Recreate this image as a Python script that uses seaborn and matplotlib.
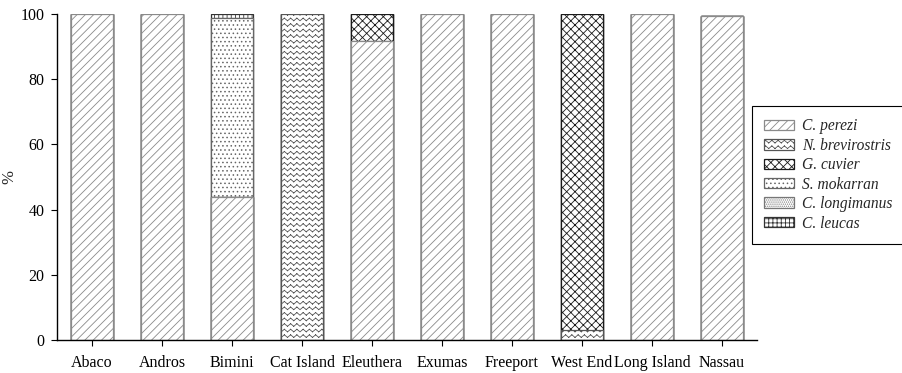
import numpy as np
import pandas as pd
import matplotlib
matplotlib.use("Agg")
import matplotlib.pyplot as plt
import seaborn as sns
from matplotlib import hatch as mhatch
from matplotlib.path import Path
from matplotlib.patches import Patch

# ---------------- data ----------------
sites = ["Abaco", "Andros", "Bimini", "Cat Island", "Eleuthera", "Exumas",
         "Freeport", "West End", "Long Island", "Nassau"]
species = ["C. perezi", "N. brevirostris", "G. cuvier", "S. mokarran",
           "C. longimanus", "C. leucas"]
c_perezi = [100, 100, 44.0, 0, 91.7, 100, 100, 0, 100, 99.4]
n_brevirostris = [0, 0, 0, 100, 0, 0, 0, 3.0, 0, 0]
g_cuvier = [0, 0, 0, 0, 8.3, 0, 0, 97.0, 0, 0]
s_mokarran = [0, 0, 54.8, 0, 0, 0, 0, 0, 0, 0]
c_longimanus = [0, 0, 0, 0, 0, 0, 0, 0, 0, 0]
c_leucas = [0, 0, 1.2, 0, 0, 0, 0, 0, 0, 0]
yticks = [0, 20, 40, 60, 80, 100]


# ------------- custom wavy hatch ('~') -------------
class WavyHatch(mhatch.HatchPatternBase):
    def __init__(self, hatch, density):
        self.num_rows = int(hatch.count("~") * density)
        self.periods = 16
        self.amp = 0.013
        self.num_vertices = self.num_rows * self.periods * 2 * 2

    def set_vertices_and_codes(self, vertices, codes):
        xs = np.linspace(0.0, 1.0, 2 * self.periods + 1)
        k = 0
        for r in range(self.num_rows):
            y0 = (r + 0.5) / self.num_rows
            ys = y0 + np.where(np.arange(len(xs)) % 2 == 0, -self.amp, self.amp)
            for i in range(len(xs) - 1):
                vertices[k] = (xs[i], ys[i])
                codes[k] = Path.MOVETO
                vertices[k + 1] = (xs[i + 1], ys[i + 1])
                codes[k + 1] = Path.LINETO
                k += 2


mhatch._hatch_types.append(WavyHatch)
try:
    mhatch.valid_hatch_patterns.add("~")
except Exception:
    pass

# ------------- style -------------
sns.set_style("ticks")
plt.rcParams["font.family"] = ["Liberation Serif", "DejaVu Serif"]
plt.rcParams["hatch.linewidth"] = 0.6

styles = {
    "C. perezi": dict(hatch="////", edgecolor="#8a8a8a"),
    "N. brevirostris": dict(hatch="~~~", edgecolor="#555555"),
    "G. cuvier": dict(hatch="xxxx", edgecolor="#1a1a1a"),
    "S. mokarran": dict(hatch="....", edgecolor="#666666"),
    "C. longimanus": dict(hatch="........", edgecolor="#777777"),
    "C. leucas": dict(hatch="++++", edgecolor="#333333"),
}

layers = [c_perezi, n_brevirostris, g_cuvier, s_mokarran, c_longimanus, c_leucas]
cum = np.cumsum(np.array(layers, dtype=float), axis=0)

fig = plt.figure(figsize=(9.02, 3.73), dpi=100)
ax = fig.add_axes([57 / 902, 1 - 340 / 373, 700 / 902, 326 / 373])

# draw cumulative bars from the top layer down so lower layers cover upper ones
for i in range(len(species) - 1, -1, -1):
    sp = species[i]
    df = pd.DataFrame({"site": sites, "value": cum[i]})
    sns.barplot(data=df, x="site", y="value", order=sites, color="white",
                saturation=1, width=0.6, errorbar=None, ax=ax,
                linewidth=0.9, **styles[sp])

ax.set_xlim(-0.5, len(sites) - 0.5)
ax.set_ylim(0, 100)
ax.set_yticks(yticks)
ax.set_xlabel("")
ax.set_ylabel("%", fontsize=12)
ax.yaxis.set_label_coords(-0.056, 0.5)
ax.tick_params(axis="both", labelsize=11.5, direction="out", length=4,
               width=0.8, color="black", labelcolor="black")
ax.tick_params(axis="y", pad=5)
ax.tick_params(axis="x", pad=7)
for s in ["top", "right"]:
    ax.spines[s].set_visible(False)
for s in ["left", "bottom"]:
    ax.spines[s].set_linewidth(1.0)
    ax.spines[s].set_color("black")

handles = [Patch(facecolor="white", linewidth=0.9, **styles[sp]) for sp in species]
leg = fig.legend(handles, species, loc="upper left",
                 bbox_to_anchor=(752 / 902, 1 - 106 / 373),
                 bbox_transform=fig.transFigure, frameon=True, fancybox=False,
                 edgecolor="black", framealpha=1, borderpad=0.8,
                 labelspacing=0.22, handlelength=1.9, handleheight=0.65,
                 handletextpad=0.5, borderaxespad=0,
                 prop={"family": ["Liberation Serif"], "style": "italic",
                       "size": 11.2})
leg.get_frame().set_linewidth(0.8)

fig.savefig("out.png", dpi=100)
